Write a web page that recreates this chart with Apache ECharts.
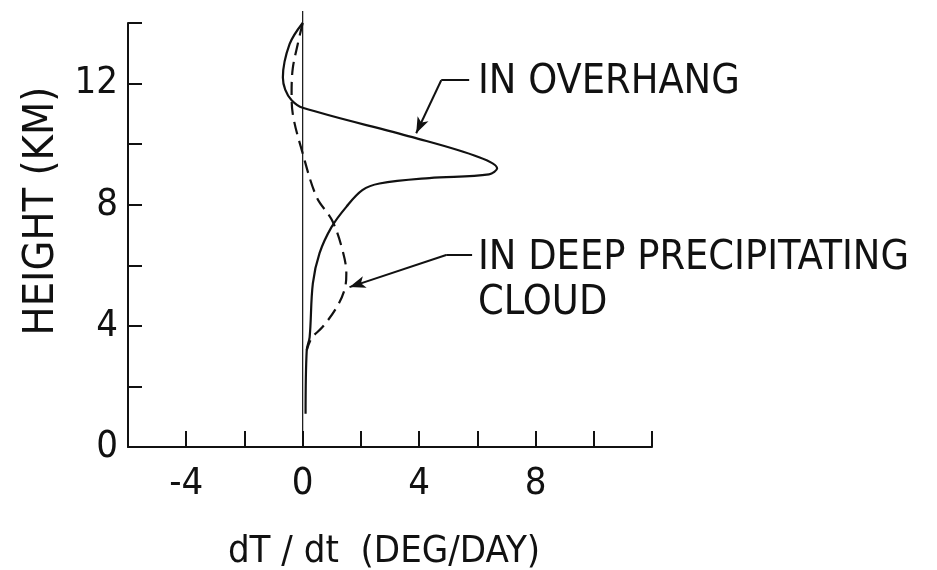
<!DOCTYPE html>
<html>
<head>
<meta charset="utf-8">
<script src="https://cdn.jsdelivr.net/npm/echarts@6/dist/echarts.min.js"></script>
<style>
  html, body { margin: 0; padding: 0; background: #fff; }
  #chart { width: 937px; height: 570px; }
</style>
</head>
<body>
<div id="chart"></div>
<script>
// heating rate profiles, [dT/dt, height]
const overhang = [
  [0, 14.0], [-0.45, 13.3], [-0.68, 12.2], [-0.6, 11.8], [-0.38, 11.45],
  [0, 11.2], [3.77, 10.23], [6.06, 9.57], [6.68, 9.2], [6.4, 9.0],
  [4.35, 8.88], [2.64, 8.7], [2.05, 8.48], [1.5, 7.93], [0.99, 7.26],
  [0.58, 6.4], [0.35, 5.4], [0.24, 3.63], [0.14, 3.2], [0.1, 1.1]
];
const deepCloud = [
  [0, 14.0], [-0.17, 13.3], [-0.34, 12.5], [-0.38, 11.7], [-0.34, 11.0],
  [-0.03, 9.8], [0.48, 8.25], [1.0, 7.5], [1.34, 6.6], [1.5, 5.73],
  [1.44, 5.2], [1.16, 4.6], [0.68, 3.96], [0.31, 3.6], [0.14, 3.2]
];
const zeroLine = [[0, 0], [0, 14.4]];
const xLabels = [-4, 0, 4, 8];
const yLabels = [0, 4, 8, 12];

const FONT = "'DejaVu Sans Condensed', 'DejaVu Sans', sans-serif";
const INK = '#111';

const chart = echarts.init(document.getElementById('chart'));

const option = {
  backgroundColor: '#fff',
  animation: false,
  grid: { left: 128, top: 23, width: 524, height: 424, outerBoundsMode: 'none', containLabel: false },
  xAxis: {
    type: 'value',
    min: -6, max: 12, interval: 2,
    name: 'dT / dt  (DEG/DAY)',
    nameLocation: 'middle',
    nameGap: 86,
    nameTextStyle: { fontFamily: FONT, fontSize: 38, color: INK, padding: [0, 12, 0, 0] },
    axisLine: { onZero: false, lineStyle: { color: INK, width: 2 } },
    axisTick: { inside: true, length: 16, lineStyle: { color: INK, width: 2 } },
    axisLabel: {
      fontFamily: FONT, fontSize: 38, color: INK, margin: 18,
      formatter: (v) => xLabels.includes(v) ? String(v) : ''
    },
    splitLine: { show: false }
  },
  yAxis: {
    type: 'value',
    min: 0, max: 14, interval: 2,
    name: 'HEIGHT (KM)',
    nameLocation: 'middle',
    nameRotate: 90,
    nameGap: 62,
    nameTextStyle: { fontFamily: FONT, fontSize: 43, color: INK, padding: [0, 0, 0, 48] },
    axisLine: { onZero: false, lineStyle: { color: INK, width: 2 } },
    axisTick: { inside: true, length: 14, lineStyle: { color: INK, width: 2 } },
    axisLabel: {
      fontFamily: FONT, fontSize: 38, color: INK, margin: 10,
      formatter: (v) => yLabels.includes(v) ? String(v) : ''
    },
    splitLine: { show: false }
  },
  series: [
    {
      name: 'zero',
      type: 'line',
      data: zeroLine,
      clip: false,
      symbol: 'none',
      lineStyle: { color: INK, width: 1.2 },
      z: 1
    },
    {
      name: 'IN OVERHANG',
      type: 'line',
      data: overhang,
      smooth: 0.35,
      symbol: 'none',
      lineStyle: { color: INK, width: 2.2 },
      markLine: {
        silent: true,
        symbol: ['none', 'none'],
        lineStyle: { color: INK, width: 2, type: 'solid' },
        label: { show: false },
        data: [
          [{ coord: [4.76, 12.11] }, { coord: [5.72, 12.11] }],
          [{ coord: [4.76, 12.11] }, { coord: [3.9, 10.36], symbol: 'arrow', symbolSize: [9, 16] }]
        ]
      }
    },
    {
      name: 'IN DEEP PRECIPITATING CLOUD',
      type: 'line',
      data: deepCloud,
      smooth: 0.35,
      symbol: 'none',
      lineStyle: { color: INK, width: 2.2, type: [13, 7] },
      markLine: {
        silent: true,
        symbol: ['none', 'none'],
        lineStyle: { color: INK, width: 2, type: 'solid' },
        label: { show: false },
        data: [
          [{ coord: [4.93, 6.34] }, { coord: [5.82, 6.34] }],
          [{ coord: [4.93, 6.34] }, { coord: [1.61, 5.28], symbol: 'arrow', symbolSize: [9, 16] }]
        ]
      }
    }
  ],
  graphic: [
    {
      type: 'text',
      style: { text: 'IN OVERHANG', x: 478, y: 82, font: '41px ' + FONT, fill: INK, verticalAlign: 'middle' }
    },
    {
      type: 'text',
      style: { text: 'IN DEEP PRECIPITATING', x: 478, y: 258, font: '41px ' + FONT, fill: INK, verticalAlign: 'middle' }
    },
    {
      type: 'text',
      style: { text: 'CLOUD', x: 478, y: 303, font: '41px ' + FONT, fill: INK, verticalAlign: 'middle' }
    }
  ]
};

chart.setOption(option);
</script>
</body>
</html>
